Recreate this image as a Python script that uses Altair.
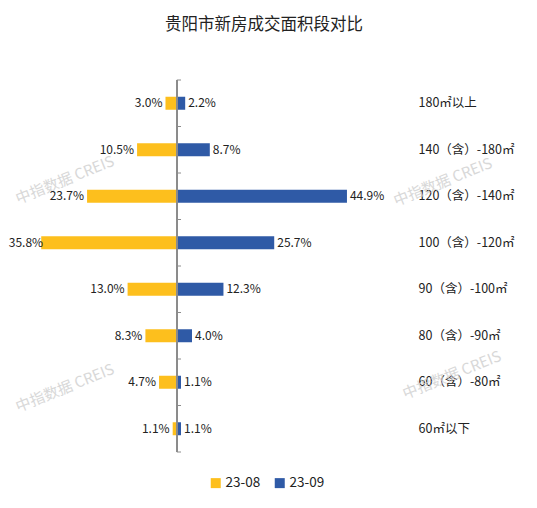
import altair as alt
import pandas as pd

categories = ["180㎡以上", "140（含）-180㎡", "120（含）-140㎡", "100（含）-120㎡",
              "90（含）-100㎡", "80（含）-90㎡", "60（含）-80㎡", "60㎡以下"]
series_names = ["23-08", "23-09"]
v_2308 = [3.0, 10.5, 23.7, 35.8, 13.0, 8.3, 4.7, 1.1]
v_2309 = [2.2, 8.7, 44.9, 25.7, 12.3, 4.0, 1.1, 1.1]
colors = ["#FDBF1D", "#2F5AA6"]
FONT = "Noto Sans CJK SC"

rows = []
for c, a, b in zip(categories, v_2308, v_2309):
    rows.append({"cat": c, "series": "23-08", "value": a, "signed": -a})
    rows.append({"cat": c, "series": "23-09", "value": b, "signed": b})
df = pd.DataFrame(rows)
df["label"] = df["value"].map(lambda v: f"{v:.1f}%")

ticks_df = pd.DataFrame({"cat": categories})
wm_df = pd.DataFrame({"t": ["中指数据 CREIS"]})

xscale = alt.Scale(domain=[-41.4, 58.9], nice=False, zero=False)
yscale = alt.Scale(domain=categories, paddingInner=0, paddingOuter=0)

base = alt.Chart(df)

wm = alt.Chart(wm_df)
watermarks = alt.layer(*[
    wm.mark_text(font=FONT, fontSize=15, angle=338, color="#cfcfcf", opacity=0.8).encode(
        text="t:N", x=alt.value(px), y=alt.value(py))
    for px, py in [(45, 100), (423, 102), (45, 308), (432, 295)]
])

bars = base.mark_bar(size=13).encode(
    y=alt.Y("cat:N", sort=categories, scale=yscale,
            axis=alt.Axis(orient="right", domain=False, ticks=False, labelPadding=18,
                          labelAlign="left", title=None, labelFontSize=12.5,
                          labelColor="#222222", labelFont=FONT)),
    x=alt.X("signed:Q", scale=xscale, axis=None),
    color=alt.Color("series:N", scale=alt.Scale(domain=series_names, range=colors),
                    legend=alt.Legend(title=None, orient="none", direction="horizontal",
                                      legendX=189, legendY=396, symbolType="square",
                                      symbolSize=100, symbolStrokeWidth=0,
                                      labelFontSize=13.5, labelFont=FONT,
                                      labelColor="#222222", columnPadding=12,
                                      symbolOffset=0, labelOffset=3)),
)

left_text = base.transform_filter(alt.datum.series == "23-08").transform_calculate(
    lx="max(datum.signed, -34.5)").mark_text(
    align="right", dx=-3, font=FONT, fontSize=12, color="#222222").encode(
    y=alt.Y("cat:N", sort=categories, scale=yscale),
    x=alt.X("lx:Q", scale=xscale), text="label:N")

right_text = base.transform_filter(alt.datum.series == "23-09").mark_text(
    align="left", dx=3, font=FONT, fontSize=12, color="#222222").encode(
    y=alt.Y("cat:N", sort=categories, scale=yscale),
    x=alt.X("signed:Q", scale=xscale), text="label:N")

axis_line = alt.Chart(ticks_df).mark_rule(color="#8c8c8c", strokeWidth=1.5).encode(
    x=alt.datum(0))

tick_start = alt.Chart(ticks_df).mark_rule(color="#8c8c8c", strokeWidth=1).encode(
    y=alt.Y("cat:N", sort=categories, scale=yscale, bandPosition=0),
    x=alt.datum(0), x2=alt.datum(1.1))

tick_end = alt.Chart(ticks_df.tail(1)).mark_rule(color="#8c8c8c", strokeWidth=1).encode(
    y=alt.Y("cat:N", sort=categories, scale=yscale, bandPosition=1),
    x=alt.datum(0), x2=alt.datum(1.1))

chart = alt.layer(watermarks, bars, left_text, right_text, axis_line, tick_start, tick_end).properties(
    width=380, height=372,
    autosize=alt.AutoSizeParams(type="none"),
    padding={"left": 12, "top": 72, "right": 129, "bottom": 48},
    title=alt.TitleParams("贵阳市新房成交面积段对比", font=FONT, fontSize=16.5,
                          fontWeight="normal", color="#222222", offset=46,
                          anchor="middle", dx=54),
).configure_view(stroke=None)

chart.save("out.html", embed_options={"renderer": "svg", "actions": False})
